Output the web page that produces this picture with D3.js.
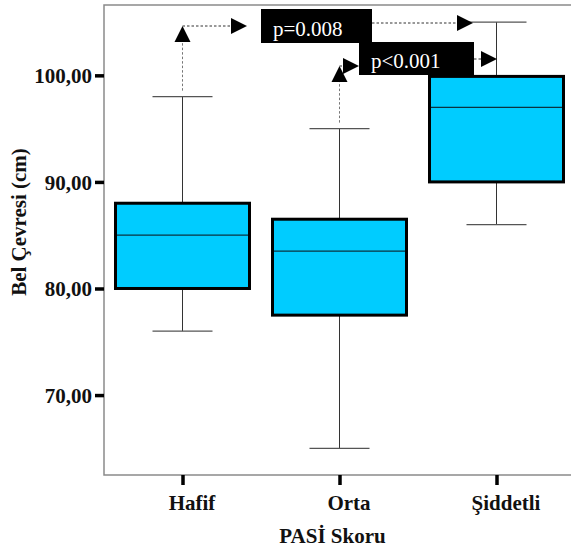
<!DOCTYPE html>
<html>
<head>
<meta charset="utf-8">
<script src="https://cdn.jsdelivr.net/npm/d3@7"></script>
<style>
  body { margin: 0; background: #fff; }
</style>
</head>
<body>
<div id="chart"></div>
<script>
// groups and five-number summaries (cm)
const groups = ['Hafif', 'Orta', 'Şiddetli'];
const whiskerLow = [76, 65, 86];
const q1 = [80, 77.5, 90];
const median = [85, 83.5, 97];
const q3 = [88, 86.5, 99.9];
const whiskerHigh = [98, 95, 105];

const yTicks = [70, 80, 90, 100];
const comparisons = [
  { from: 'Hafif', to: 'Şiddetli', label: 'p=0.008' },
  { from: 'Orta', to: 'Şiddetli', label: 'p<0.001' }
];

const width = 571, height = 552;
const plotLeft = 104, plotTop = 5, plotBottom = 475, plotRight = 575;
const serif = '"Liberation Serif", "Times New Roman", serif';

const svg = d3.select('#chart').append('svg')
  .attr('width', width)
  .attr('height', height);

const x = d3.scalePoint().domain(groups).range([plotLeft, plotRight]).padding(0.5);
const y = d3.scaleLinear().domain([62.5, 106.6]).range([plotBottom, plotTop]);

const boxes = groups.map((g, i) => ({
  g, lo: whiskerLow[i], q1: q1[i], med: median[i], q3: q3[i], hi: whiskerHigh[i]
}));

// frame
svg.append('path')
  .attr('d', `M${width},${plotTop}H${plotLeft}V${plotBottom}H${width}`)
  .attr('fill', 'none')
  .attr('stroke', '#8a8a8a')
  .attr('stroke-width', 1.5);

// y axis
const yAxis = d3.axisLeft(y).tickValues(yTicks).tickSize(9)
  .tickFormat(d => d3.format('.2f')(d).replace('.', ','));
const yG = svg.append('g').attr('transform', `translate(${plotLeft},0)`).call(yAxis);
yG.select('.domain').remove();
yG.selectAll('.tick line').attr('stroke', '#000').attr('stroke-width', 3.5);
yG.selectAll('.tick text')
  .attr('x', -12)
  .attr('dy', '0.34em')
  .style('font-family', serif)
  .style('font-size', '21px')
  .style('font-weight', 'bold')
  .attr('fill', '#111');

// x axis
const xAxis = d3.axisBottom(x).tickSize(10);
const xG = svg.append('g').attr('transform', `translate(0,${plotBottom})`).call(xAxis);
xG.select('.domain').remove();
xG.selectAll('.tick line').attr('stroke', '#000').attr('stroke-width', 3.5);
xG.selectAll('.tick text')
  .attr('x', 9)
  .attr('y', 35)
  .attr('dy', 0)
  .style('font-family', serif)
  .style('font-size', '21px')
  .style('font-weight', 'bold')
  .attr('fill', '#111');

// axis titles
svg.append('text')
  .attr('x', x('Orta') - 7)
  .attr('y', 543)
  .attr('text-anchor', 'middle')
  .style('font-family', serif)
  .style('font-size', '21px')
  .style('font-weight', 'bold')
  .attr('fill', '#111')
  .text('PASİ Skoru');

svg.append('text')
  .attr('transform', `translate(26,222) rotate(-90)`)
  .attr('text-anchor', 'middle')
  .style('font-family', serif)
  .style('font-size', '21px')
  .style('font-weight', 'bold')
  .attr('fill', '#111')
  .text('Bel Çevresi (cm)');

// boxes
const boxW = 134, capW = 60;
const bg = svg.append('g').selectAll('g').data(boxes).enter().append('g');

bg.append('line')
  .attr('x1', d => x(d.g)).attr('x2', d => x(d.g))
  .attr('y1', d => y(d.hi)).attr('y2', d => y(d.lo))
  .attr('stroke', '#333').attr('stroke-width', 1);

bg.append('line')
  .attr('x1', d => x(d.g) - capW / 2).attr('x2', d => x(d.g) + capW / 2)
  .attr('y1', d => y(d.hi)).attr('y2', d => y(d.hi))
  .attr('stroke', '#555').attr('stroke-width', 1.2);

bg.append('line')
  .attr('x1', d => x(d.g) - capW / 2).attr('x2', d => x(d.g) + capW / 2)
  .attr('y1', d => y(d.lo)).attr('y2', d => y(d.lo))
  .attr('stroke', '#555').attr('stroke-width', 1.2);

bg.append('rect')
  .attr('x', d => x(d.g) - boxW / 2)
  .attr('y', d => y(d.q3))
  .attr('width', boxW)
  .attr('height', d => y(d.q1) - y(d.q3))
  .attr('fill', '#00ccff')
  .attr('stroke', '#000')
  .attr('stroke-width', 3);

bg.append('line')
  .attr('x1', d => x(d.g) - boxW / 2 + 1.5).attr('x2', d => x(d.g) + boxW / 2 - 1.5)
  .attr('y1', d => y(d.med)).attr('y2', d => y(d.med))
  .attr('stroke', '#0b3340').attr('stroke-width', 1.2);

// significance annotations
const ann = svg.append('g');
const dotted = (x1, y1, x2, y2, col) => ann.append('line')
  .attr('x1', x1).attr('y1', y1).attr('x2', x2).attr('y2', y2)
  .attr('stroke', col || '#555').attr('stroke-width', 1)
  .attr('stroke-dasharray', '2.5,2');
const triUp = (cx, tipY, h, w) => ann.append('path')
  .attr('d', `M${cx},${tipY}L${cx - w},${tipY + h}L${cx + w},${tipY + h}Z`).attr('fill', '#000');
const triRight = (tipX, cy, len, hw) => ann.append('path')
  .attr('d', `M${tipX},${cy}L${tipX - len},${cy - hw}L${tipX - len},${cy + hw}Z`).attr('fill', '#000');

const layout = [
  { stemTop: 26, box: [261, 9, 111, 34], rightY: 23, arrowTip: 473, pre: 247 },
  { stemTop: 66, box: [359, 42, 115, 33], rightY: 59, arrowTip: 497, pre: 359 }
];

comparisons.forEach((c, i) => {
  const L = layout[i];
  const bx = x(c.from);
  const hiFrom = whiskerHigh[groups.indexOf(c.from)];
  const baseY = L.stemTop + 15;
  dotted(bx, y(hiFrom) - 6, bx, baseY, '#777');
  triUp(bx, L.stemTop, 16, 8);
  dotted(bx, L.stemTop, L.pre - 15, L.stemTop, '#333');
  triRight(L.pre, L.stemTop, 16, 8);
  const [rx, ry, rw, rh] = L.box;
  ann.append('rect').attr('x', rx).attr('y', ry).attr('width', rw).attr('height', rh).attr('fill', '#000');
  ann.append('text')
    .attr('x', rx + 12).attr('y', ry + rh - 7)
    .style('font-family', serif)
    .style('font-size', '21px')
    .attr('fill', '#fff')
    .text(c.label);
  dotted(rx + rw, L.rightY, L.arrowTip - 15, L.rightY, '#333');
  triRight(L.arrowTip, L.rightY, 16, 8);
});
</script>
</body>
</html>
